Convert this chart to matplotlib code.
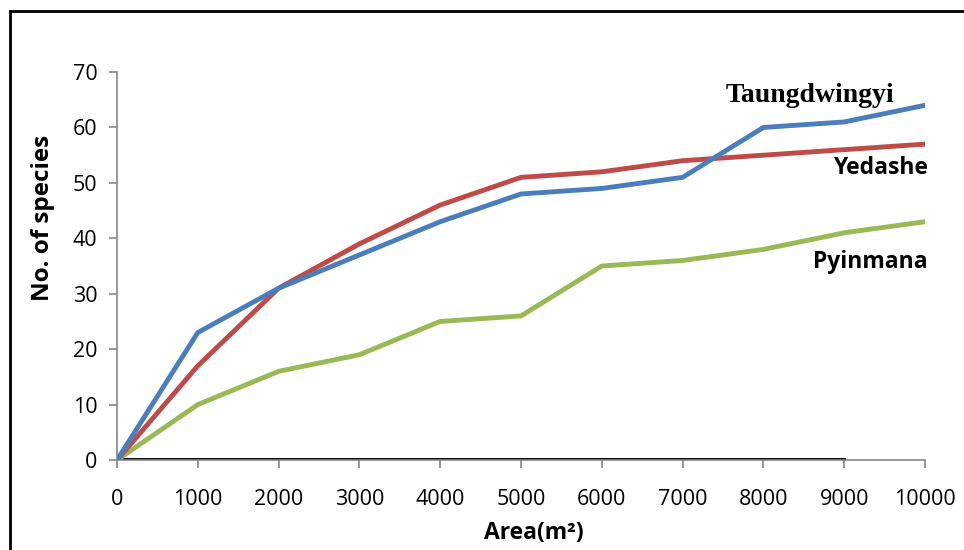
import matplotlib.pyplot as plt
from matplotlib.lines import Line2D

area = [0, 1000, 2000, 3000, 4000, 5000, 6000, 7000, 8000, 9000, 10000]
taungdwingyi = [0, 23, 31, 37, 43, 48, 49, 51, 60, 61, 64]
yedashe = [0, 17, 31, 39, 46, 51, 52, 54, 55, 56, 57]
pyinmana = [0, 10, 16, 19, 25, 26, 35, 36, 38, 41, 43]
baseline_x = [0, 9000]
baseline_y = [0, 0]

fig = plt.figure(figsize=(9.64, 5.5), dpi=100)
ax = fig.add_axes([0.1214, 0.1636, 0.8381, 0.7054])

ax.plot(baseline_x, baseline_y, color="black", lw=2.8, zorder=2)
ax.plot(area, pyinmana, color="#98B954", lw=3.5, zorder=3, solid_joinstyle="round")
ax.plot(area, yedashe, color="#BE4B48", lw=3.5, zorder=4, solid_joinstyle="round")
ax.plot(area, taungdwingyi, color="#4A7EBB", lw=3.5, zorder=5, solid_joinstyle="round")

ax.set_xlim(0, 10000)
ax.set_ylim(0, 70)
ax.set_xticks(area)
ax.set_yticks(range(0, 71, 10))
for s in ["top", "right"]:
    ax.spines[s].set_visible(False)
for s in ["left", "bottom"]:
    ax.spines[s].set_color("#868686")
    ax.spines[s].set_linewidth(1.2)
ax.tick_params(direction="out", length=6, width=1.2, color="#868686",
               labelsize=15.5, pad=8)
for lab in ax.get_xticklabels() + ax.get_yticklabels():
    lab.set_fontfamily("Open Sans")
ax.tick_params(axis="x", pad=15)

ax.set_xlabel("Area(m²)", fontsize=16.5, fontweight="bold", family="Open Sans")
ax.set_ylabel("No. of species", fontsize=17.5, fontweight="bold", family="Open Sans")
ax.xaxis.set_label_coords(0.516, -0.158)
ax.yaxis.set_label_coords(-0.077, 0.625)

ax.text(8577, 65.7, "Taungdwingyi", fontsize=20, fontweight="bold",
        family="Liberation Serif", ha="center", va="center")
ax.text(10037, 52.7, "Yedashe", fontsize=16.5, fontweight="bold",
        family="Open Sans", ha="right", va="center")
ax.text(10037, 35.7, "Pyinmana", fontsize=16.5, fontweight="bold",
        family="Open Sans", ha="right", va="center")

# outer frame (left and top edges)
fig.add_artist(Line2D([0.0104, 0.0104], [0.0, 0.98], color="black", lw=2,
                      transform=fig.transFigure))
fig.add_artist(Line2D([0.0104, 1.0], [0.98, 0.98], color="black", lw=2,
                      transform=fig.transFigure))

fig.savefig("out.png", dpi=100)
